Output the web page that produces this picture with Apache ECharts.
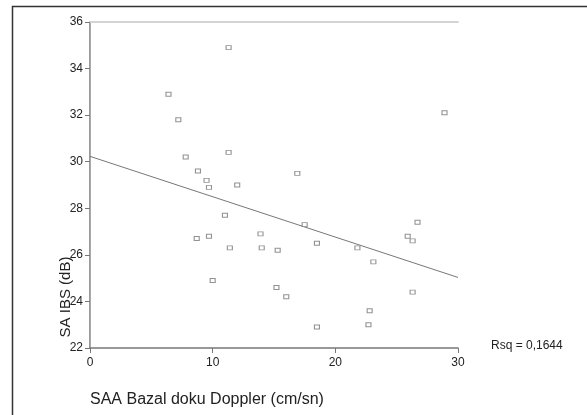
<!DOCTYPE html>
<html>
<head>
<meta charset="utf-8">
<style>
  html, body { margin: 0; padding: 0; background: #fff; }
  #chart { width: 587px; height: 415px; }
</style>
<script src="https://cdn.jsdelivr.net/npm/echarts@6/dist/echarts.min.js"></script>
</head>
<body>
<div id="chart"></div>
<script>
// Tissue Doppler basal velocity (cm/sn) vs. IBS (dB)
const dopplerValues = [
  6.4, 7.2, 7.8, 8.8, 9.5, 9.7, 11.3, 11.3, 12.0, 8.7, 9.7, 10.0,
  11.0, 11.4, 13.9, 14.0, 15.3, 15.2, 16.0, 16.9, 17.5, 18.5, 18.5,
  21.8, 23.1, 25.9, 26.3, 26.3, 22.8, 22.7, 28.9, 26.7
];
const ibsValues = [
  32.9, 31.8, 30.2, 29.6, 29.2, 28.9, 30.4, 34.9, 29.0, 26.7, 26.8, 24.9,
  27.7, 26.3, 26.9, 26.3, 26.2, 24.6, 24.2, 29.5, 27.3, 26.5, 22.9,
  26.3, 25.7, 26.8, 26.6, 24.4, 23.6, 23.0, 32.1, 27.4
];
// Fitted regression line, ends at x = 0 and x = 30
const fitX = [0, 30];
const fitY = [30.23, 25.03];
const xTicks = { min: 0, max: 30, step: 10 };
const yTicks = { min: 22, max: 36, step: 2 };
const rsqLabel = 'Rsq = 0,1644';
const xTitle = 'SAA Bazal doku Doppler (cm/sn)';
const yTitle = 'SA IBS (dB)';

const font = '"Liberation Sans", Arial, sans-serif';
const chart = echarts.init(document.getElementById('chart'));

chart.setOption({
  animation: false,
  backgroundColor: '#fff',
  grid: { left: 90, top: 22, right: 129, bottom: 67 },
  xAxis: [{
    type: 'value', min: xTicks.min, max: xTicks.max, interval: xTicks.step,
    axisLine: { show: true, onZero: false, lineStyle: { color: '#777', width: 1.5 } },
    axisTick: { show: true, length: 5, lineStyle: { color: '#777' } },
    axisLabel: { margin: 9, fontSize: 12, color: '#222', fontFamily: font },
    splitLine: { show: false }
  }, {
    type: 'value', position: 'top', min: xTicks.min, max: xTicks.max,
    axisLine: { show: true, lineStyle: { color: '#d4d4d4', width: 2 } },
    axisTick: { show: false }, axisLabel: { show: false }, splitLine: { show: false }
  }],
  yAxis: [{
    type: 'value', min: yTicks.min, max: yTicks.max, interval: yTicks.step,
    axisLine: { show: true, onZero: false, lineStyle: { color: '#777', width: 1.5 } },
    axisTick: { show: true, length: 5, lineStyle: { color: '#777' } },
    axisLabel: { margin: 7, fontSize: 12, color: '#222', fontFamily: font },
    splitLine: { show: false }
  }, {
    type: 'value', position: 'right', min: yTicks.min, max: yTicks.max,
    axisLine: { show: true, lineStyle: { color: '#aaa', width: 1 } },
    axisTick: { show: false }, axisLabel: { show: false }, splitLine: { show: false }
  }],
  series: [{
    type: 'scatter',
    data: dopplerValues.map((x, i) => [x, ibsValues[i]]),
    symbol: 'rect',
    symbolSize: [5, 4],
    itemStyle: { color: '#fff', borderColor: '#777', borderWidth: 1 }
  }, {
    type: 'line',
    data: fitX.map((x, i) => [x, fitY[i]]),
    symbol: 'none',
    lineStyle: { color: '#777', width: 1 },
    z: 1
  }],
  graphic: [
    { type: 'rect', shape: { x: 12.5, y: 6.5, width: 700, height: 600 },
      style: { fill: 'none', stroke: '#333', lineWidth: 1.5 }, silent: true },
    { type: 'text', x: 66, y: 297, rotation: Math.PI / 2,
      style: { text: yTitle, fontSize: 15, fontFamily: font, fill: '#222',
               align: 'center', verticalAlign: 'middle' } },
    { type: 'text', x: 90, y: 400,
      style: { text: xTitle, fontSize: 16, fontFamily: font, fill: '#222',
               align: 'left', verticalAlign: 'middle' } },
    { type: 'text', x: 491, y: 346,
      style: { text: rsqLabel, fontSize: 12, fontFamily: font, fill: '#222',
               align: 'left', verticalAlign: 'middle' } }
  ]
});
</script>
</body>
</html>
